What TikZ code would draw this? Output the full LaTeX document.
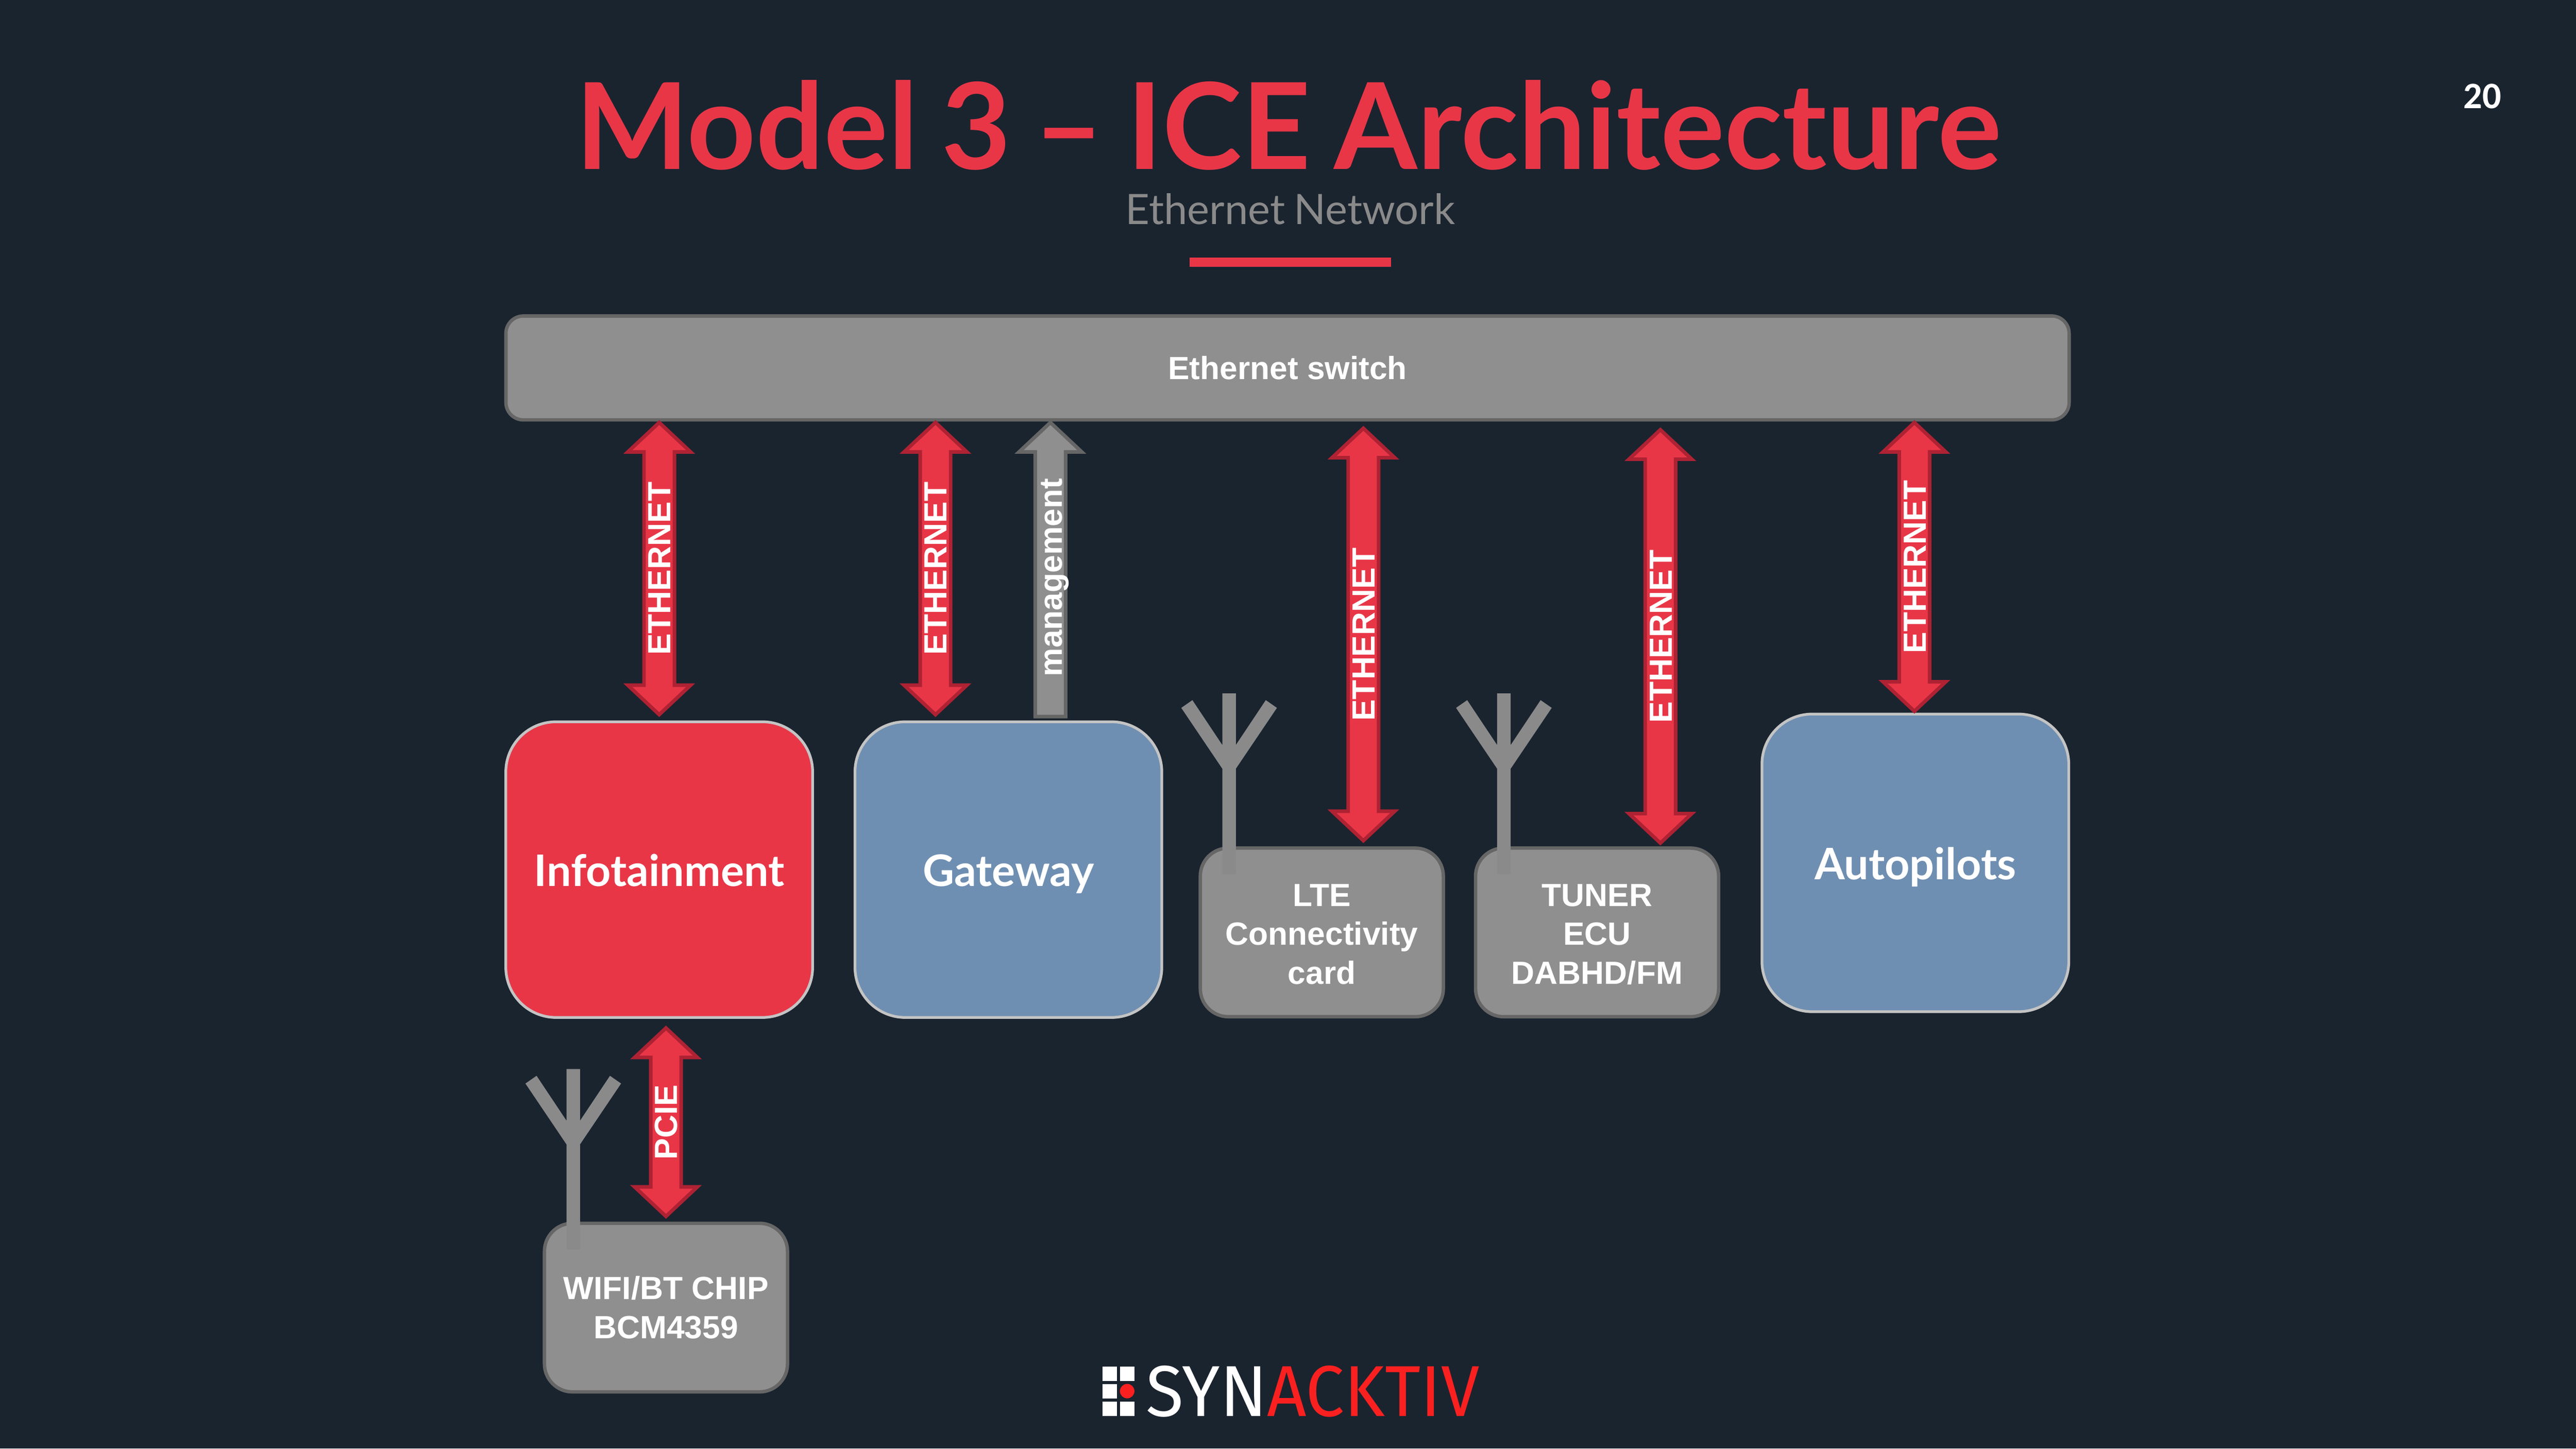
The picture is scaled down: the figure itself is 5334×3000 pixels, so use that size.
\documentclass[tikz,border=0pt]{standalone}
\usepackage{fontspec}
\usepackage{graphicx}
\setmainfont{Liberation Sans}
\newfontfamily\latofont{Lato}
\newfontfamily\titlefont[WordSpace=0.8]{Lato}
\newfontfamily\carlitofont{Carlito}
\newfontfamily\logofont{Fira Sans}
\usetikzlibrary{calc}
\definecolor{slidebg}{HTML}{1A242F}
\definecolor{slidered}{HTML}{E83647}
\definecolor{darkred}{HTML}{AE2233}
\definecolor{slideblue}{HTML}{6F8FB2}
\definecolor{boxgrey}{HTML}{8F8F8F}
\definecolor{boxedge}{HTML}{666666}
\definecolor{lightedge}{HTML}{C4C4C4}
\definecolor{antgrey}{HTML}{8A8A8A}
\definecolor{subgrey}{HTML}{8A8A8A}
\definecolor{logored}{HTML}{FB2020}
\tikzset{
    smallbox/.style={draw=boxedge, fill=boxgrey, line width=2pt, rounded corners=.58cm, outer sep=0pt,
        minimum width=5.03cm, minimum height=3.49cm, align=center, text=white, inner sep=0pt,
        text depth=0pt, font=\fontsize{18.9}{23}\bfseries\selectfont},
    bigbox/.style={draw=lightedge, line width=1.6pt, rounded corners=1.04cm, outer sep=0pt,
        minimum width=6.35cm, minimum height=6.12cm, text=white, inner sep=0pt,
        text height=19.7pt, text depth=0pt, font=\fontsize{25.6}{30}\latofont\bfseries\selectfont},
    vlabel/.style={rotate=90, text=white, inner sep=0pt, text height=13.5pt, text depth=0pt,
        font=\fontsize{18.9}{23}\bfseries\selectfont},
    redarrow/.style={draw=darkred, fill=slidered, line width=2.1pt},
    greyarrow/.style={draw=boxedge, fill=boxgrey, line width=2.1pt},
    bothways/.style={to path={
        (\tikztostart) -- ++(65,61) -- ++(-33.5,0) -- ($(\tikztotarget)+(31.5,-61)$) -- ++(33.5,0)
        -- (\tikztotarget) -- ++(-65,-61) -- ++(33.5,0) -- ($(\tikztostart)+(-31.5,61)$) -- ++(-33.5,0) -- cycle}},
    upway/.style={to path={
        (\tikztostart) -- ++(65,61) -- ++(-33.5,0) -- ($(\tikztotarget)+(31.5,0)$)
        -- ($(\tikztotarget)+(-31.5,0)$) -- ($(\tikztostart)+(-31.5,61)$) -- ++(-33.5,0) -- cycle}},
    antenna/.pic={
        \fill[antgrey] (-14,0) -- (14,0) -- (14,107) -- (76,14) -- (99,30) -- (14,156) -- (14,374)
            -- (-14,374) -- (-14,156) -- (-99,30) -- (-76,14) -- (-14,107) -- cycle;
    }
}
\begin{document}
\begin{tikzpicture}[x=0.01cm, y=-0.01cm]
    \fill[slidebg] (0,0) rectangle (5334,3000);
    \useasboundingbox (0,0) rectangle (5334,3000);

    \node[anchor=base, text=slidered, inner sep=0pt, font=\fontsize{70.6}{80}\titlefont\bfseries\selectfont] (title) at (2668,350) {Model 3 – ICE Architecture};
    \node[anchor=base, text=subgrey, inner sep=0pt, font=\fontsize{24.7}{30}\latofont\selectfont] (subtitle) at (2672,465) {Ethernet Network};
    \fill[slidered] (2463,533) rectangle (2880,553);
    \node[anchor=base, text=white, inner sep=0pt, font=\fontsize{22}{26}\carlitofont\bfseries\selectfont] (pagenum) at (5140,225) {20};

    \node[draw=boxedge, fill=boxgrey, line width=2pt, rounded corners=.36cm, outer sep=0pt, minimum width=32.35cm, minimum height=2.15cm,
        text=white, font=\fontsize{18.9}{23}\bfseries\selectfont] (switch) at (2666,762) {Ethernet switch};

    \node[bigbox, fill=slidered] (info) at (1365,1801) {Infotainment};
    \node[bigbox, fill=slideblue] (gateway) at (2088,1801) {Gateway};
    \node[bigbox, fill=slideblue, minimum height=6.16cm] (autopilots) at (3966,1787) {Autopilots};

    \node[smallbox, text height=61pt] (lte) at (2737,1931) {LTE\\Connectivity\\card};
    \node[smallbox, text height=61pt] (tuner) at (3307,1931) {TUNER\\ECU\\DABHD/FM};
    \node[smallbox, text height=36.5pt] (wifi) at (1379,2708) {WIFI/BT CHIP\\BCM4359};

    \pic (ant1) at (2545,1436) {antenna};
    \pic (ant2) at (3114,1436) {antenna};
    \pic (ant3) at (1187,2214) {antenna};

    \coordinate (infoa) at (1365,875);
    \coordinate (infob) at (1365,1480);
    \coordinate (gwa) at (1937,875);
    \coordinate (gwb) at (1937,1480);
    \coordinate (mgmta) at (2175,875);
    \coordinate (mgmtb) at (2175,1484);
    \coordinate (ltea) at (2823,887);
    \coordinate (lteb) at (2823,1741);
    \coordinate (tunera) at (3438,890);
    \coordinate (tunerb) at (3438,1746);
    \coordinate (autoa) at (3964,875);
    \coordinate (autob) at (3964,1473);
    \coordinate (pciea) at (1379,2129);
    \coordinate (pcieb) at (1379,2519);

    \draw[redarrow, bothways] (infoa) to (infob);
    \path (infoa) -- node[vlabel] (lab1) {ETHERNET} (infob);
    \draw[redarrow, bothways] (gwa) to (gwb);
    \path (gwa) -- node[vlabel] (lab2) {ETHERNET} (gwb);
    \draw[greyarrow, upway] (mgmta) to (mgmtb);
    \path (mgmta) -- node[vlabel, pos=.527] (lab3) {management} (mgmtb);
    \draw[redarrow, bothways] (ltea) to (lteb);
    \path (ltea) -- node[vlabel] (lab4) {ETHERNET} (lteb);
    \draw[redarrow, bothways] (tunera) to (tunerb);
    \path (tunera) -- node[vlabel] (lab5) {ETHERNET} (tunerb);
    \draw[redarrow, bothways] (autoa) to (autob);
    \path (autoa) -- node[vlabel] (lab6) {ETHERNET} (autob);
    \draw[redarrow, bothways] (pciea) to (pcieb);
    \path (pciea) -- node[vlabel] (lab7) {PCIE} (pcieb);

    \foreach \cx in {2298, 2334} {
        \fill[white] (\cx-15,2830) rectangle (\cx+15,2860);
        \fill[white] (\cx-15,2903) rectangle (\cx+15,2933);
    }
    \fill[white] (2283,2866) rectangle (2313,2896);
    \fill[logored] (2334,2881) ellipse (15 and 15);
    \node[anchor=base west, inner sep=0pt, font=\fontsize{42.5}{50}\logofont\selectfont] (logo) at (2372,2933)
        {\scalebox{0.955}[1]{\textcolor{white}{SYN}\textcolor{logored}{ACKTIV}}};
\end{tikzpicture}
\end{document}
